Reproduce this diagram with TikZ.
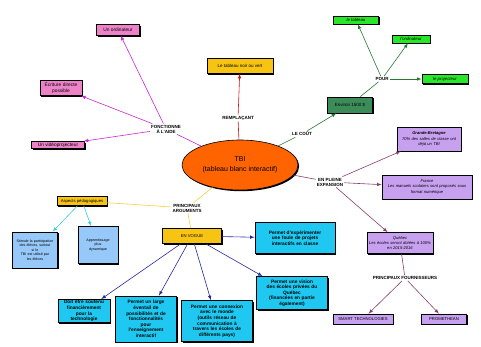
\documentclass[tikz,border=0pt]{standalone}
\usepackage{fontspec}
\setmainfont{Liberation Sans}
\usetikzlibrary{shapes.geometric,shadows}

\definecolor{pinkFill}{RGB}{238,130,200}
\definecolor{pinkLine}{RGB}{200,40,210}
\definecolor{yellowFill}{RGB}{248,196,20}
\definecolor{yellowLine}{RGB}{240,210,60}
\definecolor{greenFill}{RGB}{40,230,40}
\definecolor{costFill}{RGB}{60,140,90}
\definecolor{greenLine}{RGB}{40,120,50}
\definecolor{purpleFill}{RGB}{200,160,240}
\definecolor{purpleLine}{RGB}{140,60,110}
\definecolor{cyanFill}{RGB}{30,200,240}
\definecolor{cyanLine}{RGB}{60,210,220}
\definecolor{blueFill}{RGB}{150,200,250}
\definecolor{blueLine}{RGB}{40,40,160}
\definecolor{redLine}{RGB}{210,20,20}
\definecolor{orangeFill}{RGB}{255,100,0}

\begin{document}
\begin{tikzpicture}
            [x=1pt, y=-1pt, >=latex, line width=0.6pt,
             myBox/.style={rectangle,
                        draw,
                        align=center,
                        inner sep=1pt,
                        font=\fontsize{4.5}{5.2}\selectfont,
                        drop shadow={shadow xshift=1.2pt, shadow yshift=-1.2pt, fill=black, opacity=1}},
             linkLabel/.style={align=center, inner sep=1pt, fill=white,
                        font=\fontsize{4.5}{5}\selectfont\bfseries},
             pinkBox/.style={myBox, fill=pinkFill, font=\fontsize{4.8}{5.6}\selectfont},
             greenBox/.style={myBox, fill=greenFill, font=\fontsize{4.3}{5}\selectfont\itshape},
             purpleBox/.style={myBox, fill=purpleFill, font=\fontsize{4.1}{5.2}\selectfont\itshape},
             cyanBox/.style={myBox, fill=cyanFill, font=\fontsize{4.8}{5.6}\selectfont\bfseries},
             blueBox/.style={myBox, fill=blueFill, font=\fontsize{3.6}{4.6}\selectfont}]

            \useasboundingbox (0,0) rectangle (481,346);

            % centre
            \node[ellipse, draw, fill=orangeFill, minimum width=116pt, minimum height=50pt, align=center,
                  font=\fontsize{7}{10}\selectfont,
                  drop shadow={shadow xshift=1.2pt, shadow yshift=-1.2pt, fill=black, opacity=1}] (tbi) at (240,165) {TBI\\(tableau blanc interactif)};

            % fonctionne a l'aide
            \node[linkLabel] (fonctionne) at (166,129) {FONCTIONNE\\À L'AIDE};
            \node[pinkBox, minimum width=43pt, minimum height=11pt] (ordinateur) at (118,30) {Un ordinateur};
            \node[pinkBox, text width=40pt, minimum height=15pt] (ecriture) at (61,88) {Écriture directe\\possible};
            \node[pinkBox, minimum width=53pt, minimum height=7pt] (videoprojecteur) at (58,145) {Un vidéoprojecteur};

            % remplacant
            \node[linkLabel] (remplacant) at (238,118) {REMPLAÇANT};
            \node[myBox, fill=yellowFill, minimum width=66pt, minimum height=15pt] (tableauNoir) at (240,66) {Le tableau noir ou vert};

            % le cout
            \node[linkLabel] (leCout) at (302,134) {LE COÛT};
            \node[myBox, fill=costFill, minimum width=45pt, minimum height=16pt] (cout) at (350,105) {Environ 1500 \$};
            \node[linkLabel] (pour) at (382,79) {POUR};
            \node[greenBox, minimum width=45pt, minimum height=8pt] (leTableau) at (356,20) {le tableau};
            \node[greenBox, minimum width=38pt, minimum height=8pt] (lOrdinateur) at (411,39) {l'ordinateur};
            \node[greenBox, minimum width=46pt, minimum height=9pt] (leProjecteur) at (445,79) {le projecteur};

            % en pleine expansion
            \node[linkLabel] (expansion) at (330,182) {EN PLEINE\\EXPANSION};
            \node[purpleBox, text width=62pt, minimum height=24pt] (grandeBretagne) at (429,139) {\textbf{Grande-Bretagne}\\70\% des salles de classe ont\\déjà un TBI};
            \node[purpleBox, text width=88pt, minimum height=24pt] (france) at (427,187) {France\\Les manuels scolaires sont proposés sous\\format numérique};
            \node[purpleBox, text width=64pt, minimum height=21pt] (quebec) at (400,243) {Québec\\Les écoles seront dotées à 100\%\\en 2015-2016};
            \node[linkLabel] (fournisseurs) at (405,278) {PRINCIPAUX FOURNISSEURS};
            \node[purpleBox, font=\fontsize{4.2}{5}\selectfont, minimum width=60pt, minimum height=10pt] (smart) at (363,319) {SMART TECHNOLOGIES};
            \node[purpleBox, font=\fontsize{4.2}{5}\selectfont, minimum width=45pt, minimum height=10pt] (promethean) at (444,319) {PROMETHEAN};

            % principaux arguments
            \node[linkLabel] (arguments) at (187,208) {PRINCIPAUX\\ARGUMENTS};
            \node[myBox, fill=yellowFill, font=\fontsize{4.2}{5}\selectfont, minimum width=50pt, minimum height=9pt] (aspects) at (82,201) {Aspects pédagogiques};
            \node[blueBox, text width=43pt, minimum height=36pt] (participation) at (35,250) {Stimule la participation\\des élèves, surtout\\si le\\TBI est utilisé par\\les élèves};
            \node[blueBox, text width=38pt, minimum height=37pt] (apprentissage) at (98,245) {Apprentissage\\plus\\dynamique};
            \node[myBox, fill=yellowFill, font=\fontsize{4.2}{5}\selectfont, minimum width=59pt, minimum height=15pt] (enVogue) at (192,236) {EN VOGUE};
            \node[cyanBox, text width=78pt, minimum height=31pt] (experimenter) at (295,238) {Permet d'expérimenter\\une foule de projets\\interactifs en classe};
            \node[cyanBox, text width=69pt, minimum height=33pt] (vision) at (292,293) {Permet une vision\\des écoles privées du\\Québec\\(financées en partie\\également)};
            \node[cyanBox, text width=69pt, minimum height=41pt] (connexion) at (217,321) {Permet une connexion\\avec le monde\\(outils réseau de\\communication à\\travers les écoles de\\différents pays)};
            \node[cyanBox, text width=59pt, minimum height=46pt] (large) at (146,319) {Permet un large\\éventail de\\possibilités et de\\fonctionnalités\\pour\\l'enseignement\\interactif};
            \node[cyanBox, text width=50pt, minimum height=22pt] (soutenu) at (84,311) {Doit être soutenu\\financièrement pour la\\technologie};

            \draw [pinkLine] (tbi) to (fonctionne);
            \draw [->, pinkLine] (fonctionne) to (ordinateur);
            \draw [->, pinkLine] (fonctionne) to (ecriture);
            \draw [->, pinkLine] (fonctionne) to (videoprojecteur);

            \draw [redLine] (tbi) to (remplacant);
            \draw [->, redLine] (remplacant) to (tableauNoir);

            \draw [greenLine] (tbi) to (leCout);
            \draw [->, greenLine] (leCout) to (cout);
            \draw [greenLine] (cout) to (pour);
            \draw [->, greenLine] (pour) to (leTableau);
            \draw [->, greenLine] (pour) to (lOrdinateur);
            \draw [->, greenLine] (pour) to (leProjecteur);

            \draw [purpleLine] (tbi) to (expansion);
            \draw [->, purpleLine] (expansion) to (grandeBretagne);
            \draw [->, purpleLine] (expansion) to (france);
            \draw [->, purpleLine] (expansion) to (quebec);
            \draw [purpleLine] (quebec) to (fournisseurs);
            \draw [->, purpleLine] (fournisseurs) to (smart);
            \draw [->, purpleLine] (fournisseurs) to (promethean);

            \draw [yellowLine] (tbi) to (arguments);
            \draw [yellowLine] (arguments) to (aspects);
            \draw [yellowLine] (arguments) to (enVogue);
            \draw [->, cyanLine] (aspects) to (participation);
            \draw [->, cyanLine] (aspects) to (apprentissage);
            \draw [->, blueLine] (enVogue) to (experimenter);
            \draw [->, blueLine] (enVogue) to (vision);
            \draw [->, blueLine] (enVogue) to (connexion);
            \draw [->, blueLine] (enVogue) to (large);
            \draw [->, blueLine] (enVogue) to (soutenu);
        \end{tikzpicture}
\end{document}
